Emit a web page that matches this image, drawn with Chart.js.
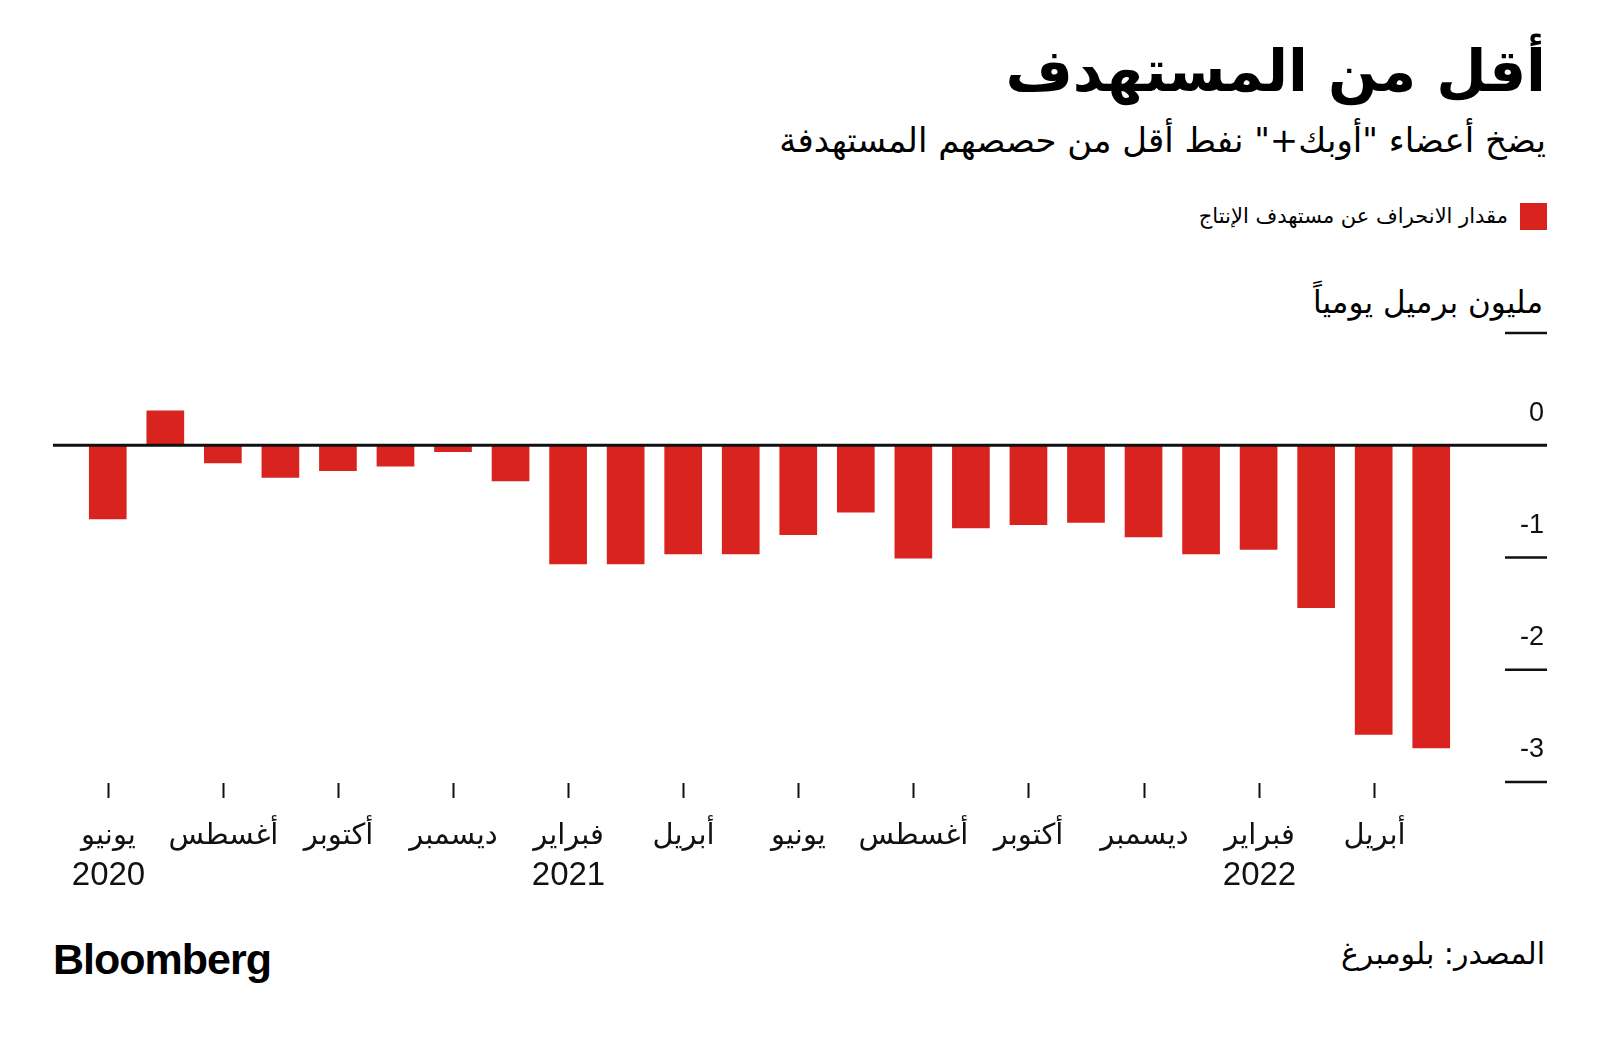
<!DOCTYPE html>
<html lang="ar" dir="rtl">
<head>
<meta charset="utf-8">
<script src="https://cdn.jsdelivr.net/npm/chart.js@4.4.1/dist/chart.umd.min.js"></script>
<style>
  html, body { margin: 0; padding: 0; background: #fff; }
  body { width: 1600px; height: 1038px; position: relative; overflow: hidden; font-family: "DejaVu Sans", sans-serif; color: #000; }
  .txt { position: absolute; white-space: nowrap; }
  #title { right: 54px; top: 39px; font-size: 58px; line-height: 64px; font-weight: bold; }
  #subtitle { right: 54px; top: 121px; font-size: 34px; line-height: 38px; }
  #legendBox { position: absolute; right: 53px; top: 203px; width: 27px; height: 27px; background: #d9231f; }
  #legendText { right: 92px; top: 203px; font-size: 21px; line-height: 26px; }
  #unit { right: 57px; top: 284px; font-size: 31px; line-height: 36px; }
  #source { right: 55px; top: 936px; font-size: 30px; line-height: 36px; }
  #brand { left: 53px; top: 935px; font-family: "Liberation Sans", Arial, sans-serif; font-weight: bold; font-size: 43px; line-height: 48px; letter-spacing: -1px; direction: ltr; }
  #wrap { position: absolute; left: 0; top: 300px; width: 1600px; height: 600px; }
</style>
</head>
<body>
<div id="title" class="txt">أقل من المستهدف</div>
<div id="subtitle" class="txt">يضخ أعضاء "أوبك+" نفط أقل من حصصهم المستهدفة</div>
<div id="legendBox"></div>
<div id="legendText" class="txt">مقدار الانحراف عن مستهدف الإنتاج</div>
<div id="unit" class="txt">مليون برميل يومياً</div>
<div id="wrap"><canvas id="chart" width="1600" height="600"></canvas></div>
<div id="source" class="txt">المصدر: بلومبرغ</div>
<div id="brand" class="txt">Bloomberg</div>

<script>
// monthly, June 2020 .. May 2022
const months = [
  "يونيو", "يوليو", "أغسطس", "سبتمبر", "أكتوبر", "نوفمبر", "ديسمبر", "يناير",
  "فبراير", "مارس", "أبريل", "مايو", "يونيو", "يوليو", "أغسطس", "سبتمبر",
  "أكتوبر", "نوفمبر", "ديسمبر", "يناير", "فبراير", "مارس", "أبريل", "مايو"
];
const years = ["2020", "", "", "", "", "", "", "", "2021", "", "", "", "", "", "", "", "", "", "", "", "2022", "", "", ""];
const deviation = [
  -0.66, 0.31, -0.16, -0.29, -0.23, -0.19, -0.06, -0.32,
  -1.06, -1.06, -0.97, -0.97, -0.80, -0.60, -1.01, -0.74,
  -0.71, -0.69, -0.82, -0.97, -0.93, -1.45, -2.58, -2.70
];
const yTickValues = [0, -1, -2, -3];
const yLineValues = [1, -1, -2, -3];

const RED = "#d9231f";

// axes are hidden, this draws the Bloomberg style axis marks from the scales
const axisMarks = {
  id: "axisMarks",
  afterDatasetsDraw(chart) {
    const { ctx, scales: { x, y } } = chart;
    ctx.save();

    // right side short lines
    ctx.strokeStyle = "#111";
    ctx.lineWidth = 2.5;
    yLineValues.forEach(v => {
      const py = y.getPixelForValue(v);
      ctx.beginPath();
      ctx.moveTo(1505, py);
      ctx.lineTo(1547, py);
      ctx.stroke();
    });

    // zero line across everything
    const y0 = y.getPixelForValue(0);
    ctx.lineWidth = 3;
    ctx.beginPath();
    ctx.moveTo(53, y0);
    ctx.lineTo(1547, y0);
    ctx.stroke();

    // y labels sit above their line
    ctx.fillStyle = "#111";
    ctx.font = '27px "Liberation Sans", Arial, sans-serif';
    ctx.textAlign = "right";
    ctx.textBaseline = "middle";
    ctx.direction = "ltr";
    yTickValues.forEach(v => {
      ctx.fillText(String(v), 1544, y.getPixelForValue(v) - 32);
    });

    // x ticks every other month
    const tickTop = chart.chartArea.bottom + 1;
    ctx.lineWidth = 2;
    ctx.textAlign = "center";
    months.forEach((m, i) => {
      if (i % 2 !== 0) return;
      const px = Math.round(x.getPixelForValue(i)) + 0.5;
      ctx.beginPath();
      ctx.moveTo(px, tickTop);
      ctx.lineTo(px, tickTop + 15);
      ctx.stroke();

      ctx.direction = "rtl";
      ctx.font = '29px "DejaVu Sans", sans-serif';
      ctx.fillText(m, px, tickTop + 53);
      if (years[i]) {
        ctx.direction = "ltr";
        ctx.font = '33px "Liberation Sans", Arial, sans-serif';
        ctx.fillText(years[i], px, tickTop + 93);
      }
    });
    ctx.restore();
  }
};

new Chart(document.getElementById("chart"), {
  type: "bar",
  data: {
    labels: months,
    datasets: [{
      label: "مقدار الانحراف عن مستهدف الإنتاج",
      data: deviation,
      backgroundColor: RED,
      borderWidth: 0,
      categoryPercentage: 1,
      barPercentage: 0.655
    }]
  },
  options: {
    responsive: false,
    animation: false,
    layout: { padding: { left: 79, right: 140, top: 33, bottom: 118 } },
    plugins: { legend: { display: false }, tooltip: { enabled: false } },
    scales: {
      x: { display: false },
      y: { display: false, min: -3, max: 1 }
    }
  },
  plugins: [axisMarks]
});
</script>
</body>
</html>
